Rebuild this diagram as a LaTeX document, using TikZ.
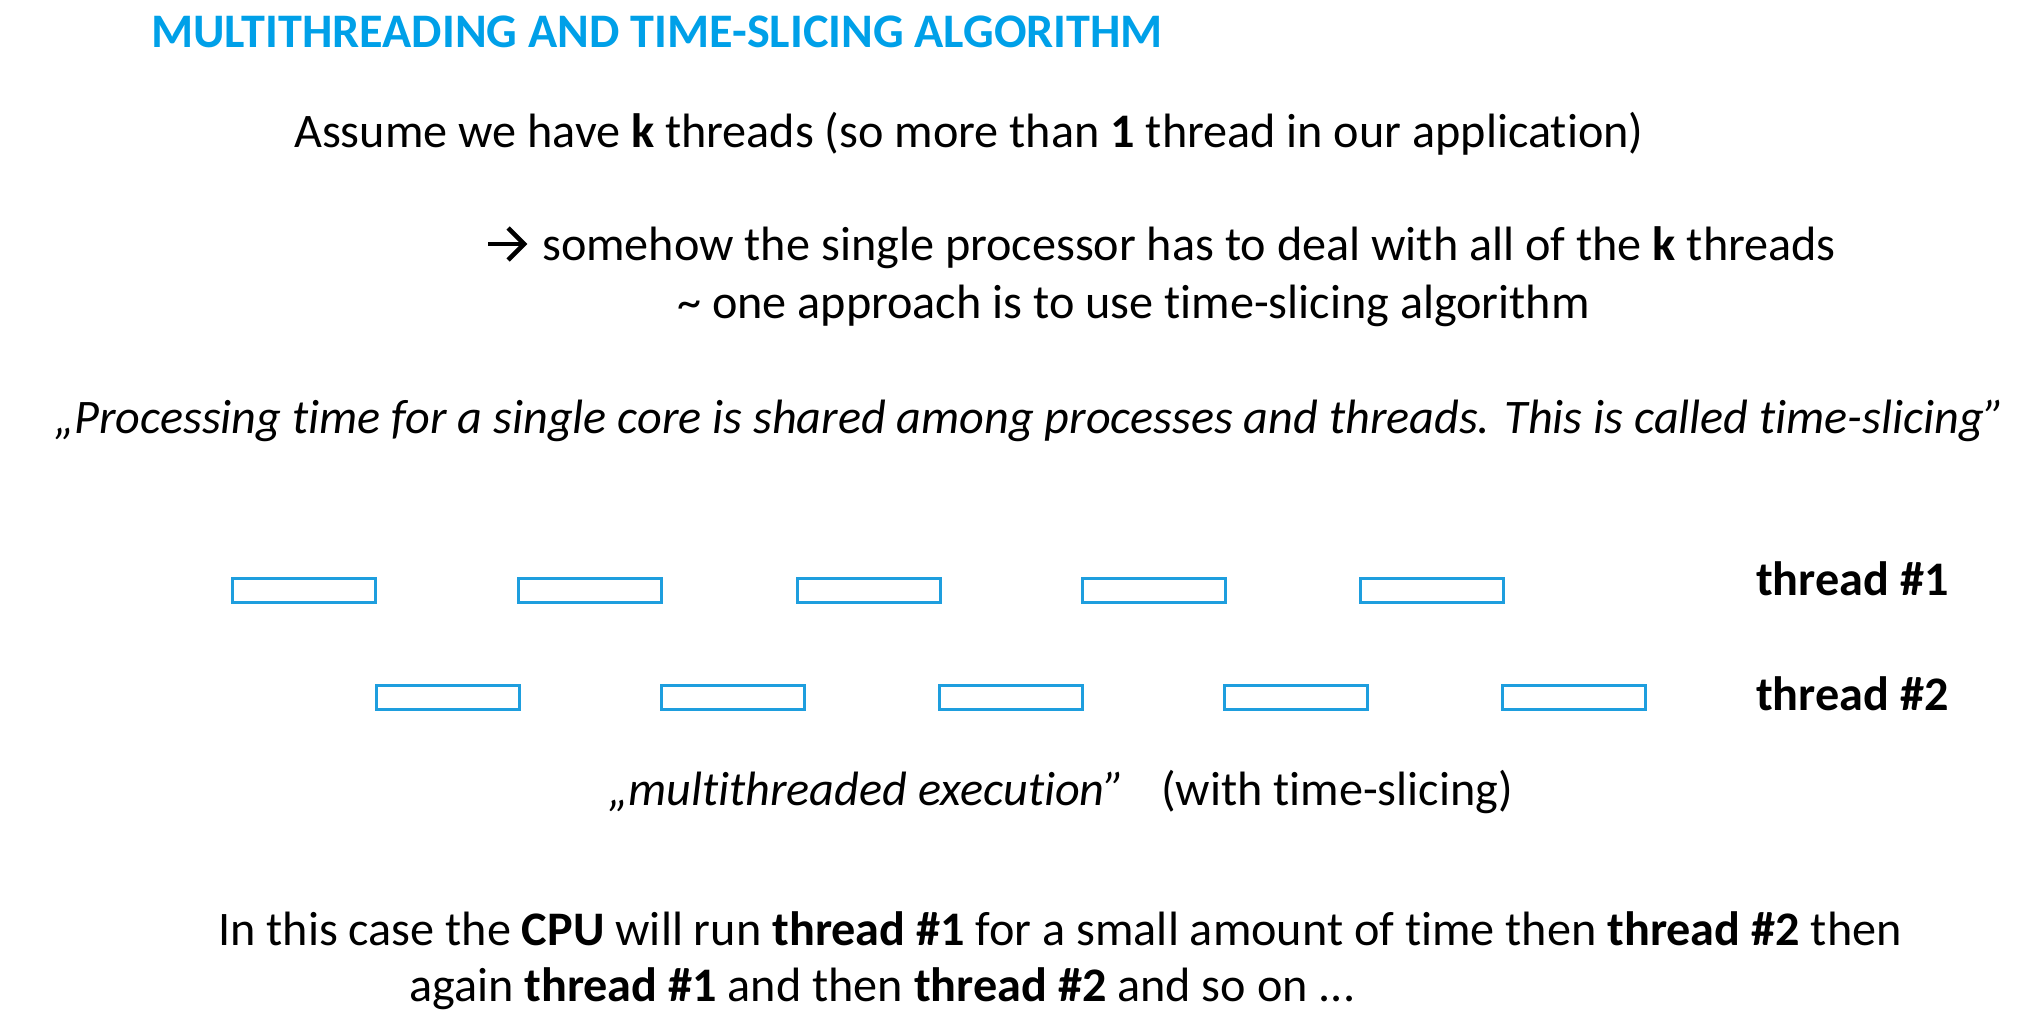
\documentclass[tikz,border=0pt]{standalone}
\usepackage{fontspec}
\setmainfont{Carlito}[Ligatures={TeX,NoCommon}]
\definecolor{slideblue}{RGB}{0,160,232}
\definecolor{slotblue}{RGB}{30,158,222}
\newcommand{\slidesize}{\fontsize{48.2}{56}\selectfont}
\begin{document}
\begin{tikzpicture}[x=1pt,y=-1pt,
  txt/.style={inner sep=0pt,anchor=west,font=\slidesize},
  slot/.style={draw=slotblue,line width=2.6pt,minimum width=143pt,minimum height=24pt,inner sep=0pt,anchor=north west},
  lbl/.style={inner sep=0pt,anchor=west,font=\slidesize\bfseries},
  bullet arrow/.style={line width=4.6pt,miter limit=10}]
\useasboundingbox (0,0) rectangle (2025,1012);
% heading
\node[inner sep=0pt,anchor=west,text=slideblue,font=\slidesize\bfseries] (title) at (151,32) {MULTITHREADING AND TIME-SLICING ALGORITHM};
% explanatory lines
\node[txt] (l1) at (294,134) {Assume we have \textbf{k} threads (so more than \textbf{1} thread in our application)};
\node[txt] (l2) at (542,248) {somehow the single processor has to deal with all of the \textbf{k} threads};
% arrow bullet in front of the second line
\draw[bullet arrow] ([shift={(-54,-4)}]l2.west) -- ([shift={(-18,-4)}]l2.west);
\draw[bullet arrow] ([shift={(-34,-20)}]l2.west) -- ([shift={(-18,-4)}]l2.west) -- ([shift={(-34,12)}]l2.west);
\node[txt] (l3) at (677,306) {\textasciitilde{} one approach is to use time-slicing algorithm};
\node[txt] (quote) at (54,421) {\itshape „Processing time for a single core is shared among processes and threads. This is called time-slicing”};
% time slots of thread #1
\foreach \x [count=\i] in {231,517,796,1081,1359}
  \node[slot] (a\i) at (\x,577) {};
% time slots of thread #2
\foreach \x [count=\i] in {375,660,938,1223,1501}
  \node[slot] (b\i) at (\x,684) {};
\node[lbl] (t1) at (1756,579) {thread \#1};
\node[lbl] (t2) at (1756,694) {thread \#2};
\node[txt] (caption) at (608,792) {\textit{„multithreaded execution”}\hspace{0.75em}(with time-slicing)};
% summary
\node[txt] (s1) at (218,929) {In this case the \textbf{CPU} will run \textbf{thread \#1} for a small amount of time then \textbf{thread \#2} then};
\node[txt] (s2) at (409,989) {again \textbf{thread \#1} and then \textbf{thread \#2} and so on ...};
\end{tikzpicture}
\end{document}
